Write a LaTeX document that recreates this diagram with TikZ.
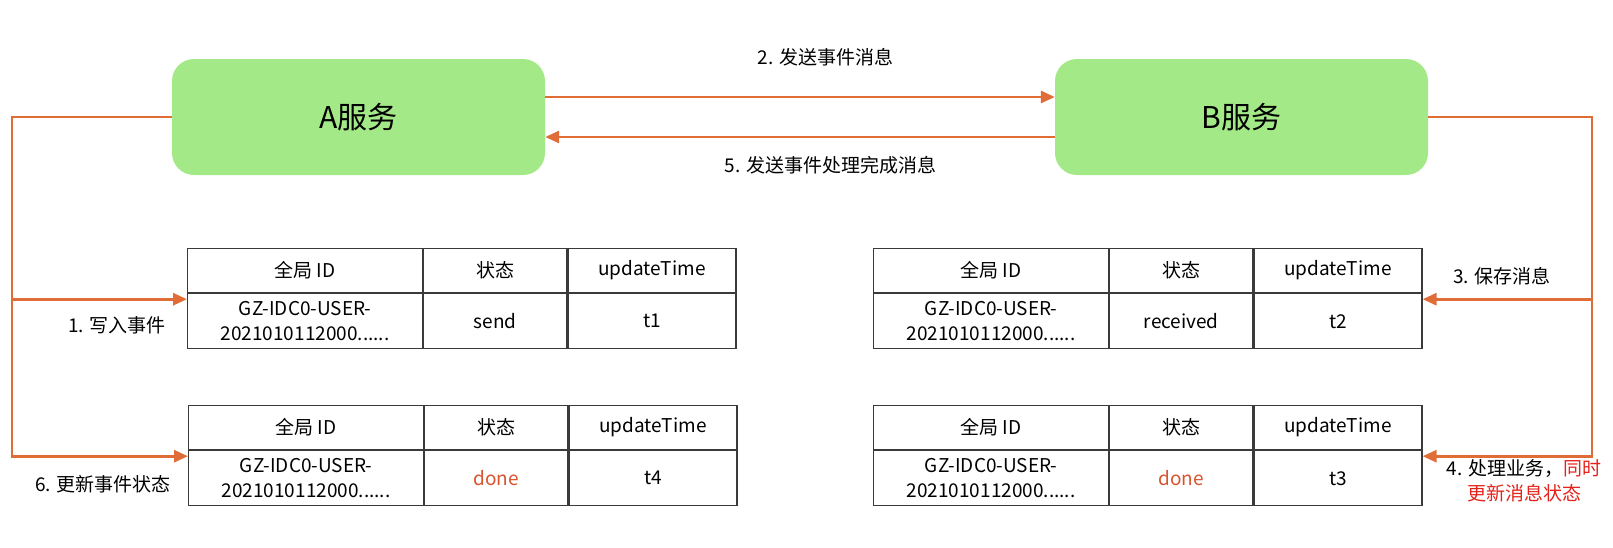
\documentclass[tikz,border=0pt]{standalone}
\usepackage{fontspec}
\setmainfont{Noto Sans CJK SC}
\usetikzlibrary{arrows.meta,positioning}

\definecolor{svcgreen}{HTML}{A3E987}
\definecolor{flowline}{HTML}{E06C37}
\definecolor{donered}{HTML}{D9532C}
\definecolor{notered}{HTML}{E3231B}
\definecolor{gridline}{HTML}{3A3A3A}

\tikzset{
  service/.style={fill=svcgreen, rounded corners=22pt, minimum width=373pt, minimum height=116pt, font=\fontsize{30}{36}\selectfont},
  flow/.style={draw=flowline, line width=2.9pt, -{Triangle[length=14pt,width=12pt]}},
  cell/.style={draw=gridline, line width=1.2pt, inner sep=0pt, align=center, anchor=north west, font=\fontsize{19}{25}\selectfont},
  note/.style={inner sep=0pt, font=\fontsize{19}{25}\selectfont},
}

% one status table: name, top left corner, status, status colour, time
\newcommand{\evtable}[5]{%
  \node[cell, minimum width=235pt, minimum height=44pt] (#1h1) at (#2) {全局 ID};
  \node[cell, minimum width=143pt, minimum height=44pt] (#1h2) at (#1h1.north east) {状态};
  \node[cell, minimum width=168pt, minimum height=44pt] (#1h3) at (#1h2.north east) {updateTime};
  \node[cell, minimum width=235pt, minimum height=55pt] (#1d1) at (#1h1.south west) {GZ-IDC0-USER-\\2021010112000......};
  \node[cell, minimum width=143pt, minimum height=55pt, text=#4] (#1d2) at (#1d1.north east) {#3};
  \node[cell, minimum width=168pt, minimum height=55pt] (#1d3) at (#1d2.north east) {#5};
}

\begin{document}
\begin{tikzpicture}[x=1pt, y=-1pt]
    \useasboundingbox (0,0) rectangle (1613,547);

    % Services
    \node[service] (A) at (358.5,117) {A服务};
    \node[service] (B) at (1241.5,117) {B服务};

    % Event tables
    \evtable{ta}{187,248}{send}{black}{t1}
    \evtable{tb}{873,248}{received}{black}{t2}
    \evtable{tc}{188,405}{done}{donered}{t4}
    \evtable{td}{873,405}{done}{donered}{t3}

    % Messages between the services
    \draw[flow] ([yshift=20pt]A.east) -- ([yshift=20pt]B.west)
        node[note, pos=.55, yshift=40pt] (msg2) {2. 发送事件消息};
    \draw[flow] ([yshift=-20pt]B.west) -- ([yshift=-20pt]A.east)
        node[note, pos=.44, yshift=-28pt] (msg5) {5. 发送事件处理完成消息};

    % Left rail: A writes and updates its event
    \coordinate (lrail) at (12,0);
    \coordinate (tain) at ([yshift=-6pt]tah1.south west);
    \coordinate (tcin) at ([yshift=-6pt]tch1.south west);
    \draw[flow] (A.west) -- (A.west -| lrail) |- (tcin);
    \draw[flow] (lrail |- tain) -- (tain);

    % Right rail: B saves and handles the message
    \coordinate (rrail) at (1592,0);
    \coordinate (tbin) at ([yshift=-6pt]tbh3.south east);
    \coordinate (tdin) at ([yshift=-6pt]tdh3.south east);
    \draw[flow] (B.east) -- (B.east -| rrail) |- (tdin);
    \draw[flow] (rrail |- tbin) -- (tbin);

    % Step labels
    \node[note, anchor=east] (step1) at (166,325) {1. 写入事件};
    \node[note, anchor=east] (step6) at (171,484) {6. 更新事件状态};
    \node[note] (step3) at (1502,276) {3. 保存消息};
    \node[note, align=center] (step4) at (1524,481)
        {4. 处理业务，\textcolor{notered}{同时}\\\textcolor{notered}{更新消息状态}};
\end{tikzpicture}
\end{document}
